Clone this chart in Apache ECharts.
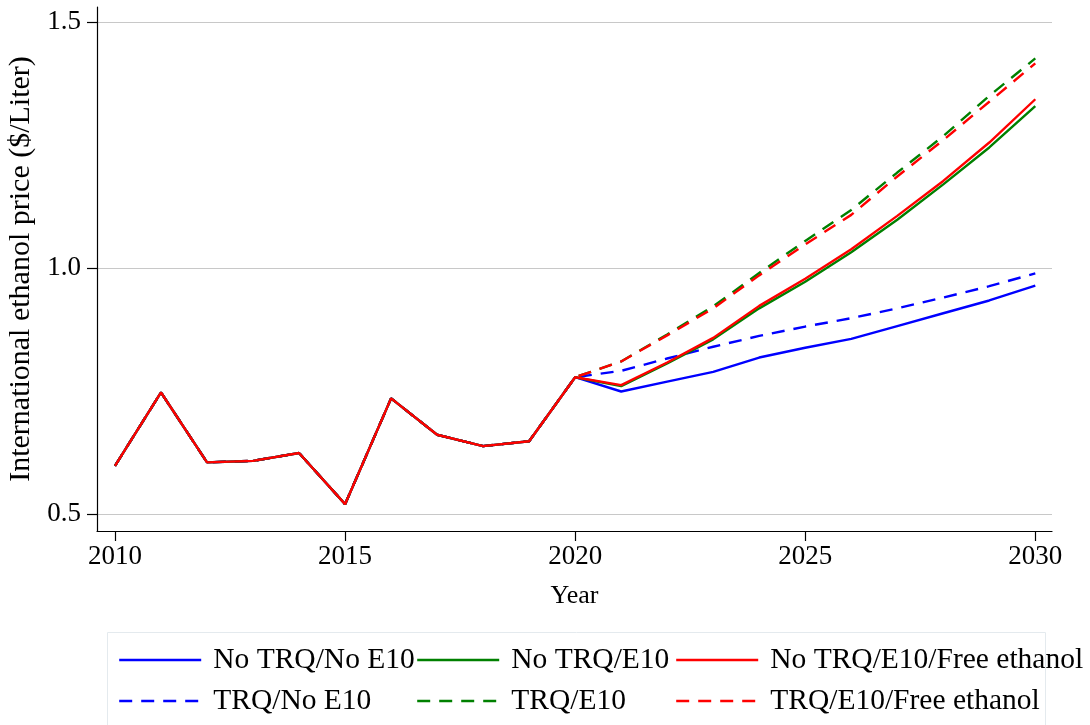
<!DOCTYPE html>
<html>
<head>
<meta charset="utf-8">
<title>International ethanol price</title>
<script src="https://cdn.jsdelivr.net/npm/echarts@6/dist/echarts.min.js"></script>
<style>
  html, body { margin: 0; padding: 0; background: #ffffff; }
  #chart { width: 1090px; height: 725px; }
</style>
</head>
<body>
<div id="chart"></div>
<script>
// Years on the horizontal axis
const years = [2010, 2011, 2012, 2013, 2014, 2015, 2016, 2017, 2018, 2019, 2020,
               2021, 2022, 2023, 2024, 2025, 2026, 2027, 2028, 2029, 2030];

// Observed price, 2010-2020 ($/Liter), shared by every scenario
const history = [0.598, 0.747, 0.605, 0.608, 0.624, 0.520, 0.735, 0.661, 0.638, 0.648, 0.778];

// Projected price, 2021-2030, per scenario
const noTrqNoE10     = [0.749, 0.769, 0.789, 0.818, 0.838, 0.856, 0.882, 0.908, 0.934, 0.964];
const noTrqE10       = [0.760, 0.806, 0.855, 0.918, 0.972, 1.032, 1.098, 1.170, 1.245, 1.329];
const noTrqE10Free   = [0.762, 0.808, 0.858, 0.923, 0.978, 1.038, 1.106, 1.177, 1.255, 1.343];
const trqNoE10       = [0.791, 0.816, 0.840, 0.862, 0.881, 0.898, 0.918, 0.940, 0.963, 0.989];
const trqE10         = [0.810, 0.865, 0.922, 0.990, 1.055, 1.118, 1.194, 1.268, 1.350, 1.426];
const trqE10Free     = [0.810, 0.863, 0.918, 0.985, 1.048, 1.108, 1.186, 1.260, 1.338, 1.416];

// Tick positions
const xTicks = [2010, 2015, 2020, 2025, 2030];
const yTicks = [0.5, 1.0, 1.5];

const FONT = "'Liberation Serif', 'Times New Roman', serif";
const BLUE = '#0000ff', GREEN = '#008000', RED = '#ff0000';
const DASH = [13, 9];
const LINE_W = 2.4;

function pairs(proj) {
  const vals = history.concat(proj);
  return years.map((y, i) => [y, vals[i]]);
}

function makeSeries(name, proj, color, dashed) {
  return {
    name: name,
    type: 'line',
    data: pairs(proj),
    symbol: 'none',
    showSymbol: false,
    smooth: false,
    animation: false,
    color: color,
    lineStyle: { color: color, width: LINE_W, type: dashed ? DASH : 'solid', cap: 'butt' },
    itemStyle: { color: color }
  };
}

const legendText = {
  fontFamily: FONT, fontSize: 29.5, color: '#000', lineHeight: 30,
  padding: [0, 0, 0, 7]
};

function legendColumn(left, names) {
  return {
    orient: 'vertical',
    left: left,
    top: 645,
    padding: 0,
    itemGap: 11,
    itemWidth: 82,
    itemHeight: 14,
    data: names,
    selectedMode: false,
    itemStyle: { opacity: 0 },
    lineStyle: { width: LINE_W },
    textStyle: legendText
  };
}

const chart = echarts.init(document.getElementById('chart'), null, { renderer: 'canvas' });

chart.setOption({
  backgroundColor: '#ffffff',
  animation: false,
  grid: { left: 97, right: 38, top: 7, bottom: 194, containLabel: false, outerBoundsMode: 'none' },
  xAxis: {
    type: 'value',
    min: 2009.609,
    max: 2030.363,
    name: 'Year',
    nameLocation: 'middle',
    nameGap: 52,
    nameTextStyle: { fontFamily: FONT, fontSize: 26, color: '#000' },
    axisLine: { show: true, onZero: false, lineStyle: { color: '#000', width: 1.2 } },
    axisTick: { show: true, length: 10, inside: false, customValues: xTicks,
                lineStyle: { color: '#000', width: 1.2 } },
    axisLabel: { customValues: xTicks, margin: 12, fontFamily: FONT, fontSize: 27,
                 color: '#000', formatter: v => String(Math.round(v)) },
    splitLine: { show: false }
  },
  yAxis: {
    type: 'value',
    min: 0.46545,
    max: 1.5305,
    name: 'International ethanol price ($/Liter)',
    nameLocation: 'middle',
    nameRotate: 90,
    nameGap: 57,
    nameTextStyle: { fontFamily: FONT, fontSize: 30, color: '#000' },
    axisLine: { show: true, onZero: false, lineStyle: { color: '#000', width: 1.2 } },
    axisTick: { show: true, length: 10, inside: false, customValues: yTicks,
                lineStyle: { color: '#000', width: 1.2 } },
    axisLabel: { customValues: yTicks, margin: 16, fontFamily: FONT, fontSize: 27,
                 color: '#000', formatter: v => v.toFixed(1) },
    splitLine: { show: true, lineStyle: { color: '#c8c8c8', width: 1.2 } }
  },
  legend: [
    legendColumn(118, ['No TRQ/No E10', 'TRQ/No E10']),
    legendColumn(416, ['No TRQ/E10', 'TRQ/E10']),
    legendColumn(675, ['No TRQ/E10/Free ethanol', 'TRQ/E10/Free ethanol'])
  ],
  graphic: [{
    type: 'rect',
    shape: { x: 107.5, y: 632.5, width: 938, height: 120 },
    style: { fill: 'none', stroke: '#e4eaee', lineWidth: 1 },
    silent: true,
    z: -1
  }],
  series: [
    makeSeries('TRQ/No E10', trqNoE10, BLUE, true),
    makeSeries('TRQ/E10', trqE10, GREEN, true),
    makeSeries('TRQ/E10/Free ethanol', trqE10Free, RED, true),
    makeSeries('No TRQ/No E10', noTrqNoE10, BLUE, false),
    makeSeries('No TRQ/E10', noTrqE10, GREEN, false),
    makeSeries('No TRQ/E10/Free ethanol', noTrqE10Free, RED, false)
  ]
});
</script>
</body>
</html>
